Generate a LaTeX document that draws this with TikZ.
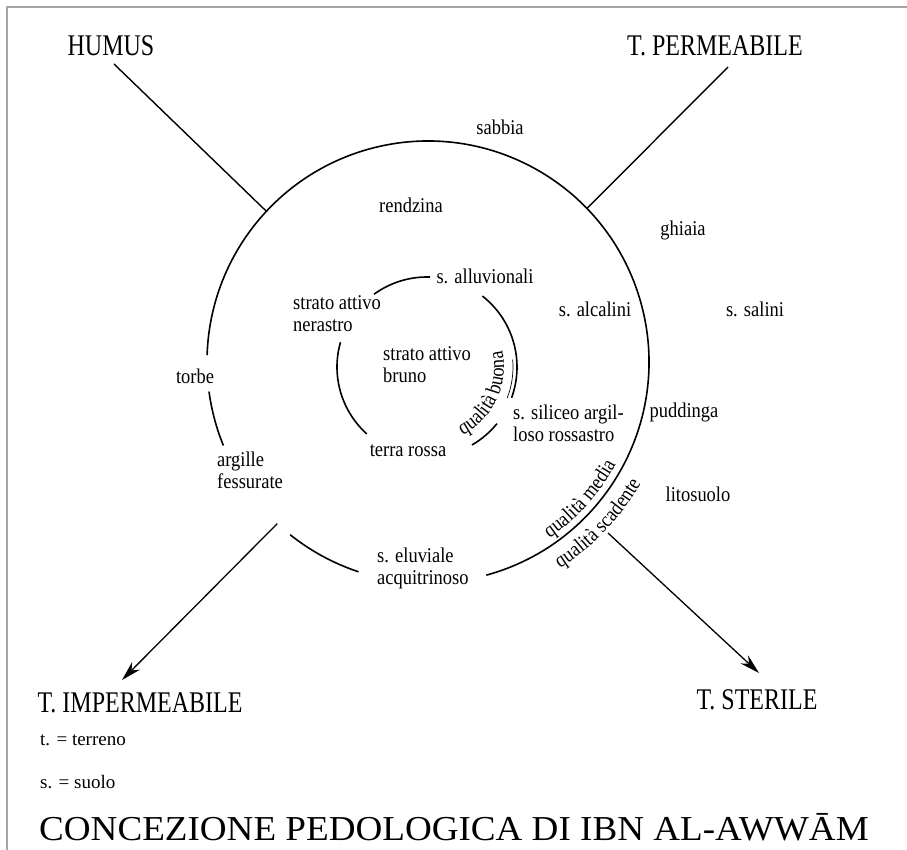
\documentclass[tikz,border=0pt]{standalone}
\usepackage{fontspec}
\setmainfont{Liberation Serif}
\newfontfamily\labfam[FakeStretch=0.88]{Liberation Serif}
\newfontfamily\capfam[FakeStretch=0.8]{Liberation Serif}
\newfontfamily\titfam[FakeStretch=1.06]{Liberation Serif}
\usetikzlibrary{calc,arrows.meta,decorations.text}
\newcommand\labf{\labfam\fontsize{21}{22}\selectfont}
\newcommand\capf{\capfam\fontsize{30}{32}\selectfont}
\newcommand\legf{\rmfamily\fontsize{19}{21}\selectfont}
\newcommand\titf{\titfam\fontsize{35}{40}\selectfont}
\begin{document}
\begin{tikzpicture}[x=1pt,y=1pt,
  lab/.style={font=\labf, inner sep=0pt, align=left},
  capl/.style={font=\capf, inner sep=0pt},
  legl/.style={font=\legf, inner sep=0pt, anchor=base west},
  ring/.style={line width=1.6pt},
  thinring/.style={line width=0.7pt},
  spoke/.style={line width=1.4pt},
  arr/.style={line width=1.3pt, -{Stealth[length=20pt,width=11pt]}}]
\fill[white] (0,0) rectangle (907,-850);
\useasboundingbox (0,0) rectangle (907,-850);
% frame
\draw[gray!70, line width=1.5pt] (907,-7) -- (7,-7) -- (7,-850);

\coordinate (O) at (428,-362);
\coordinate (I) at (427,-367);

% outer circle with gaps
\draw[ring] ($(O)+(-74.7:221pt)$) arc[start angle=-74.7, end angle=178.2, radius=221pt];
\draw[ring] ($(O)+(187.7:221pt)$) arc[start angle=187.7, end angle=202.2, radius=221pt];
\draw[ring] ($(O)+(231.4:221pt)$) arc[start angle=231.4, end angle=251.7, radius=221pt];

% inner circle pieces
\draw[ring] ($(I)+(126:90pt)$) arc[start angle=126, end angle=88, radius=90pt];
\draw[ring] ($(I)+(52:90pt)$) arc[start angle=52, end angle=-20, radius=90pt];
\draw[ring] ($(I)+(-39:90pt)$) arc[start angle=-39, end angle=-60, radius=90pt];
\draw[thinring] ($(I)+(5:86pt)$) arc[start angle=5, end angle=-21, radius=86pt];
\draw[ring] ($(I)+(164:90pt)$) arc[start angle=164, end angle=228, radius=90pt];

% curved texts
\path[decorate, decoration={text along path, text={|\labf|qualità buona}, text align=center}]
  ($(I)+(-72:77pt)$) arc[start angle=-72, end angle=22, radius=77pt];
\path[decorate, decoration={text along path, text={|\labf|qualità media}, text align=center}]
  ($(O)+(-75:214pt)$) arc[start angle=-75, end angle=-9, radius=214pt];
\path[decorate, decoration={text along path, text={|\labf|qualità scadente}, text align=center}]
  ($(O)+(-78:245pt)$) arc[start angle=-78, end angle=-9, radius=245pt];

% spokes and arrows
\coordinate (jH) at ($(O)+(137:221pt)$);
\coordinate (eH) at (114,-64);
\coordinate (jP) at ($(O)+(44:221pt)$);
\coordinate (eP) at (728,-67);
\coordinate (jI) at ($(O)+(227:221pt)$);
\coordinate (tI) at (122,-680);
\coordinate (sS) at (608,-533);
\coordinate (tS) at (759,-673);
\draw[spoke] (jH) -- (eH);
\draw[spoke] (jP) -- (eP);
\draw[arr] (jI) -- (tI);
\draw[arr] (sS) -- (tS);

% corner labels
\node[capl] (humus) at (111,-46) {HUMUS};
\node[capl] (perm) at (715,-46) {T. PERMEABILE};
\node[capl] (imperm) at (140,-703) {T. IMPERMEABILE};
\node[capl] (steril) at (757,-700) {T. STERILE};

% soil labels
\node[lab] (sabbia) at (500,-127) {sabbia};
\node[lab] (rendzina) at (411,-205) {rendzina};
\node[lab] (ghiaia) at (683,-230) {ghiaia};
\node[lab] (salini) at (755,-309) {s. salini};
\node[lab] (alluv) at (485,-276) {s. alluvionali};
\node[lab, anchor=west] (nerastro) at (293,-314) {strato attivo\\nerastro};
\node[lab] (alcalini) at (595,-309) {s. alcalini};
\node[lab, anchor=west] (bruno) at (383,-365) {strato attivo\\bruno};
\node[lab] (torbe) at (195,-376) {torbe};
\node[lab, anchor=west] (argille) at (217,-470) {argille\\fessurate};
\node[lab] (terra) at (408,-451) {terra rossa};
\node[lab, anchor=west] (siliceo) at (513,-423) {s. siliceo argil-\\loso rossastro};
\node[lab] (puddinga) at (684,-412) {puddinga};
\node[lab] (lito) at (698,-494) {litosuolo};
\node[lab, anchor=west] (eluv) at (377,-568) {s. eluviale\\acquitrinoso};

% legend and title
\node[legl] (leg1) at (40,-745) {t. = terreno};
\node[legl] (leg2) at (40,-788) {s. = suolo};
\node[font=\titf, inner sep=0pt, anchor=base] (title) at (454,-840) {CONCEZIONE PEDOLOGICA DI IBN AL-AWWĀM};
\end{tikzpicture}
\end{document}
